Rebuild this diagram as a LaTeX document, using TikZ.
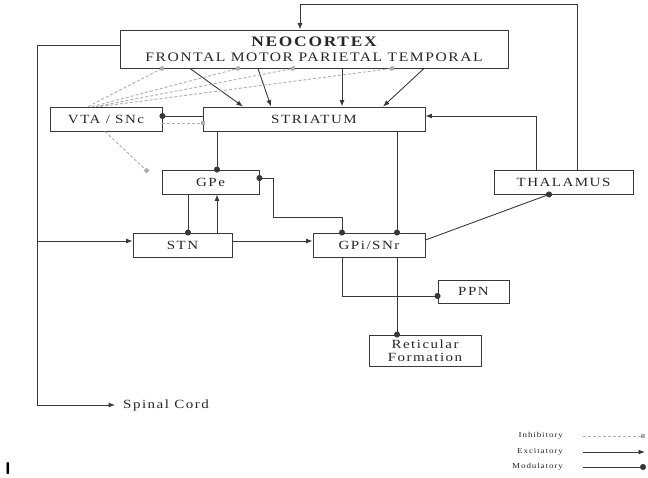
\documentclass[tikz,border=0pt]{standalone}
\usepackage{fontspec}
\setmainfont{Liberation Serif}[LetterSpace=12, FakeStretch=1.2]
\usetikzlibrary{arrows.meta,calc}
\begin{document}
\begin{tikzpicture}[x=1pt,y=-1pt,
  ln/.style={draw=black!78, line width=0.9pt},
  box/.style={ln, rectangle, inner sep=0pt, text=black!85, font=\fontsize{12.5}{14}\selectfont},
  exc/.style={ln, -{Latex[length=6.5pt,width=5pt]}},
  mod/.style={ln, -{Circle[length=6pt]}, shorten >=-3pt},
  modboth/.style={ln, {Circle[length=6pt]}-{Circle[length=6pt]}, shorten >=-3pt, shorten <=-3pt},
  inh/.style={draw=black!32, line width=0.9pt, dash pattern=on 3pt off 2pt, -{Square[length=4pt,width=4pt]}, shorten >=-2pt},
  legtext/.style={anchor=east, inner sep=0pt, text=black!85, font=\fontsize{7.5}{8}\selectfont},
]
\useasboundingbox (0,0) rectangle (648,477);

% boxes
\node[box, minimum width=388pt, minimum height=38pt, align=center, font=\fontsize{13}{15}\selectfont] (neo) at (314,49)
  {{\bfseries\fontsize{14.5}{15}\selectfont NEOCORTEX}\\FRONTAL MOTOR PARIETAL TEMPORAL};
\node[box, minimum width=112pt, minimum height=24pt] (vta) at (106,119) {VTA / SNc};
\node[box, minimum width=222pt, minimum height=24pt] (str) at (314,119) {STRIATUM};
\node[box, minimum width=97pt, minimum height=24pt] (gpe) at (210.5,182) {GPe};
\node[box, minimum width=139pt, minimum height=24pt] (thal) at (563.5,182) {THALAMUS};
\node[box, minimum width=99pt, minimum height=24pt] (stn) at (182.5,245) {STN};
\node[box, minimum width=112pt, minimum height=24pt] (gpi) at (369,245) {GPi/SNr};
\node[box, minimum width=71pt, minimum height=23pt] (ppn) at (473.5,291.5) {PPN};
\node[box, minimum width=112pt, minimum height=31pt, align=center, font=\fontsize{12.5}{12.5}\selectfont] (ret) at (425,350.5) {Reticular\\Formation};
\node[anchor=west, inner xsep=8pt, inner ysep=0pt, text=black!85, font=\fontsize{12.5}{14}\selectfont] (spinal) at (115,405) {Spinal Cord};

% helper coordinates
\coordinate (g1) at ($(gpe.north)+(6.5,0)$);
\coordinate (g2) at ($(gpe.south)+(6.5,0)$);
\coordinate (s1) at ($(stn.north)+(5.5,0)$);
\coordinate (p1) at ($(gpi.north)+(28,0)$);

% thalamus -> neocortex loop
\draw[exc] ($(thal.north)+(13.5,0)$) -- ++(0,-165) -| ($(neo.north)+(-14,0)$);
% neocortex -> spinal cord and STN
\draw[exc] ($(neo.west)+(0,-4)$) -| ($(spinal.west)+(-78,0)$) -- (spinal.west);
\draw[exc] ($(stn.west)+(-96,-4)$) -- ($(stn.west)+(0,-4)$);

% neocortex -> striatum
\draw[exc] ($(neo.south)+(-124,0)$) -- ($(str.north)+(-71,0)$);
\draw[exc] ($(neo.south)+(-56,0)$) -- ($(str.north)+(-43,0)$);
\draw[exc] ($(neo.south)+(28,0)$) -- ($(str.north)+(28,0)$);
\draw[exc] ($(neo.south)+(110,0)$) -- ($(str.north)+(69,0)$);

% VTA inhibitory projections
\draw[inh] ($(vta.north)+(-18,0)$) -- ($(neo.south)+(-152,0)$);
\draw[inh] ($(vta.north)+(-14,0)$) -- ($(neo.south)+(-76,0)$);
\draw[inh] ($(vta.north)+(-10,0)$) -- ($(neo.south)+(-21,0)$);
\draw[inh] ($(vta.north)+(-6,0)$) -- ($(neo.south)+(78,0)$);
\draw[inh] ($(vta.east)+(0,4)$) -- ($(str.west)+(0,4)$);
\draw[inh] ($(vta.south)+(-1,0)$) -- ($(gpe.north west)+(-15,1)$);

% striatum <-> VTA modulatory
\draw[mod] ($(str.west)+(0,-3)$) -- ($(vta.east)+(0,-3)$);

% striatum -> GPe, GPi
\draw[mod] (g1 |- str.south) -- (g1);
\draw[mod] (p1 |- str.south) -- (p1);

% GPe <-> STN
\draw[mod] (s1 |- gpe.south) -- (s1);
\draw[exc] (g2 |- stn.north) -- (g2);

% GPe <-> GPi
\draw[modboth] ($(gpe.east)+(0,-4)$) -| ($(gpe.east)+(14,35)$) -| ($(gpi.north)+(-27,0)$);

% STN -> GPi
\draw[exc] ($(stn.east)+(0,-4)$) -- ($(gpi.west)+(0,-4)$);

% thalamus -> striatum
\draw[exc] ($(thal.north)+(-27.5,0)$) |- ($(str.east)+(0,-3)$);

% GPi -> thalamus, PPN, reticular
\draw[mod] ($(gpi.east)+(0,-5)$) -- ($(thal.south)+(-14.5,0)$);
\draw[mod] ($(gpi.south)+(-27,0)$) |- ($(ppn.west)+(0,4.5)$);
\draw[mod] ($(gpi.south)+(28,0)$) -- ($(ret.north)+(-28,0)$);

% legend
\node[legtext] (li) at (563,436) {Inhibitory};
\node[legtext] (le) at (563,452) {Excitatory};
\node[legtext] (lm) at (563,467) {Modulatory};
\draw[inh] ($(li.east)+(20,0)$) -- ++(60,0);
\draw[exc] ($(le.east)+(20,0)$) -- ++(62,0);
\draw[mod] ($(lm.east)+(20,0)$) -- ++(60,0);

% stray mark
\node[inner sep=0pt, font=\fontsize{17}{17}\sffamily\bfseries] (mark) at (8,469) {I};
\end{tikzpicture}
\end{document}
